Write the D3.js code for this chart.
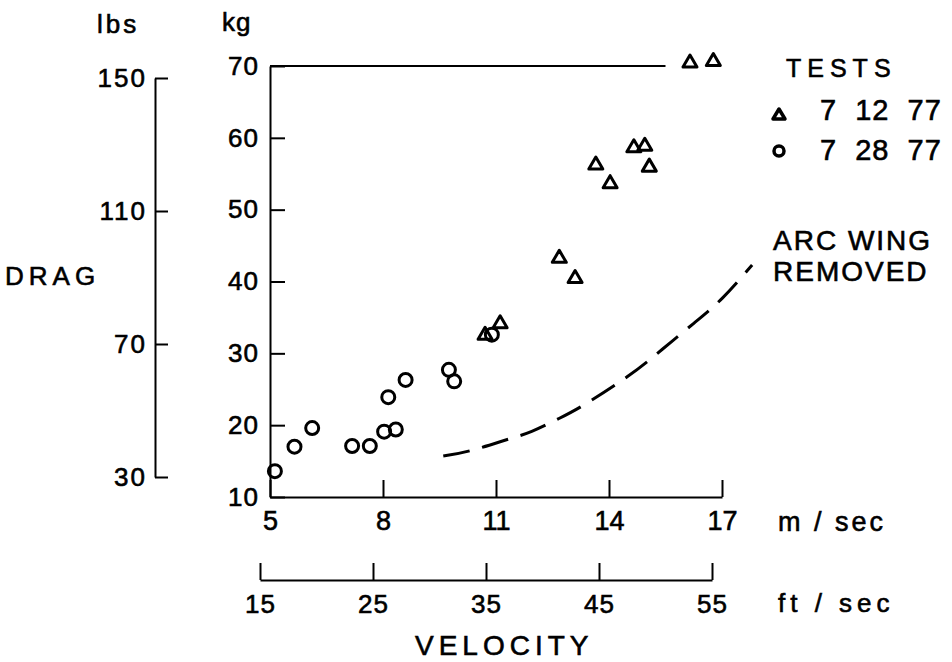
<!DOCTYPE html>
<html>
<head>
<meta charset="utf-8">
<script src="https://cdn.jsdelivr.net/npm/d3@7"></script>
<style>
  body { margin: 0; background: #fff; }
  svg { display: block; font-family: "Liberation Sans", Arial, Helvetica, sans-serif; }
  text { fill: #000; stroke: #000; stroke-width: 0.6px; }
</style>
</head>
<body>
<div id="chart"></div>
<script>
// drag vs velocity, two test days plus the "arc wing removed" curve

const mTicks = [5, 8, 11, 14, 17];
const ftTicks = [15, 25, 35, 45, 55];
const kgTicks = [10, 20, 30, 40, 50, 60, 70];
const lbsTicks = [30, 70, 110, 150];

// tests 7 12 77 (triangles)
const triVel = [10.71, 11.11, 12.68, 13.10, 13.65, 14.03, 14.66, 14.95, 15.07, 16.15, 16.77];
const triDrag = [32.8, 34.4, 43.5, 40.7, 56.5, 53.9, 58.9, 59.1, 56.2, 70.7, 70.9];

// tests 7 28 77 (circles)
const circVel = [5.13, 5.65, 6.12, 7.18, 7.65, 8.03, 8.34, 8.14, 8.60, 9.75, 9.89, 10.89];
const circDrag = [13.6, 17.0, 19.6, 17.1, 17.1, 19.1, 19.4, 23.9, 26.3, 27.7, 26.1, 32.6];

// arc wing removed (dashed)
const curveVel = [9.6, 10.3, 11.4, 11.9, 12.7, 13.2, 14.6, 15.4, 16.3, 17.0, 17.8];
const curveDrag = [15.7, 16.3, 18.2, 18.9, 21.0, 22.3, 27.0, 30.5, 34.4, 37.4, 42.3];

const legendLabels = ["7  12  77", "7  28  77"];

const width = 952, height = 662;

const svg = d3.select("#chart").append("svg")
  .attr("width", width)
  .attr("height", height);

const x = d3.scaleLinear().domain([5, 17]).range([270, 722]);
const y = d3.scaleLinear().domain([10, 70]).range([497, 66]);
const yLbs = d3.scaleLinear().domain([30, 150]).range([477, 78]);
const xFt = d3.scaleLinear().domain([15, 55]).range([260, 712]);

function styleAxis(g, size, spacing) {
  g.select(".domain").attr("stroke", "#000").attr("stroke-width", 2);
  g.selectAll(".tick line").attr("stroke", "#000").attr("stroke-width", 2);
  g.selectAll(".tick text")
    .attr("fill", "#000")
    .style("font-size", size + "px")
    .style("letter-spacing", spacing + "px");
  g.attr("font-family", null).attr("font-size", null);
}

// kg axis
svg.append("g")
  .attr("transform", `translate(${x(5)},0)`)
  .call(d3.axisLeft(y).tickValues(kgTicks).tickSizeInner(-15).tickSizeOuter(0).tickPadding(11))
  .call(styleAxis, 26, 1);

// lbs axis
svg.append("g")
  .attr("transform", "translate(155,0)")
  .call(d3.axisLeft(yLbs).tickValues(lbsTicks).tickSizeInner(-13).tickSizeOuter(0).tickPadding(8))
  .call(styleAxis, 26, 2);

// m/sec axis
svg.append("g")
  .attr("transform", `translate(0,${y(10)})`)
  .call(d3.axisBottom(x).tickValues(mTicks).tickSizeInner(-17).tickSizeOuter(0).tickPadding(14))
  .call(styleAxis, 27, 0);

// ft/sec axis
svg.append("g")
  .attr("transform", "translate(0,580)")
  .call(d3.axisBottom(xFt).tickValues(ftTicks).tickSizeInner(-17).tickSizeOuter(0).tickPadding(15))
  .call(styleAxis, 26, 1);

// top frame line
svg.append("line")
  .attr("x1", x(5)).attr("x2", x(15.5))
  .attr("y1", y(70)).attr("y2", y(70))
  .attr("stroke", "#000").attr("stroke-width", 2);

// dashed curve
const curveData = curveVel.map((v, i) => [v, curveDrag[i]]);
svg.append("path")
  .datum(curveData)
  .attr("fill", "none")
  .attr("stroke", "#000")
  .attr("stroke-width", 3)
  .attr("stroke-dasharray", "27,13")
  .attr("d", d3.line().x(d => x(d[0])).y(d => y(d[1])).curve(d3.curveBasis));

// triangle outline centered on its box
function triPath(w, h) {
  return `M0,${-h / 2}L${w / 2},${h / 2}L${-w / 2},${h / 2}Z`;
}

svg.append("g")
  .selectAll("circle")
  .data(circVel.map((v, i) => [v, circDrag[i]]))
  .join("circle")
  .attr("cx", d => x(d[0]))
  .attr("cy", d => y(d[1]))
  .attr("r", 6.5)
  .attr("fill", "none")
  .attr("stroke", "#000")
  .attr("stroke-width", 3);

svg.append("g")
  .selectAll("path")
  .data(triVel.map((v, i) => [v, triDrag[i]]))
  .join("path")
  .attr("transform", d => `translate(${x(d[0])},${y(d[1])})`)
  .attr("d", triPath(14, 12))
  .attr("fill", "none")
  .attr("stroke", "#000")
  .attr("stroke-width", 3)
  .attr("stroke-linejoin", "round");

// titles
function label(txt, tx, ty, size, spacing) {
  return svg.append("text")
    .attr("x", tx).attr("y", ty)
    .style("font-size", size + "px")
    .style("letter-spacing", spacing + "px")
    .attr("xml:space", "preserve")
    .text(txt);
}

label("lbs", 97, 33, 26, 3);
label("kg", 222, 31, 26, 1);
label("DRAG", 5, 285, 26, 5);
label("m / sec", 778, 531, 27, 3);
label("ft / sec", 778, 612, 26, 5);
label("VELOCITY", 415, 655, 28, 5);

// legend
label("TESTS", 786, 77, 25, 6);
svg.append("path")
  .attr("transform", "translate(779,114)")
  .attr("d", triPath(12, 10))
  .attr("fill", "none")
  .attr("stroke", "#000")
  .attr("stroke-width", 3.5)
  .attr("stroke-linejoin", "round");
svg.append("circle")
  .attr("cx", 779).attr("cy", 151).attr("r", 5)
  .attr("fill", "none")
  .attr("stroke", "#000")
  .attr("stroke-width", 3.5);
legendLabels.forEach((t, i) => label(t, 820, 120 + i * 40, 29, 1));

label("ARC WING", 773, 250, 28, 2);
label("REMOVED", 773, 281, 28, 2);
</script>
</body>
</html>
